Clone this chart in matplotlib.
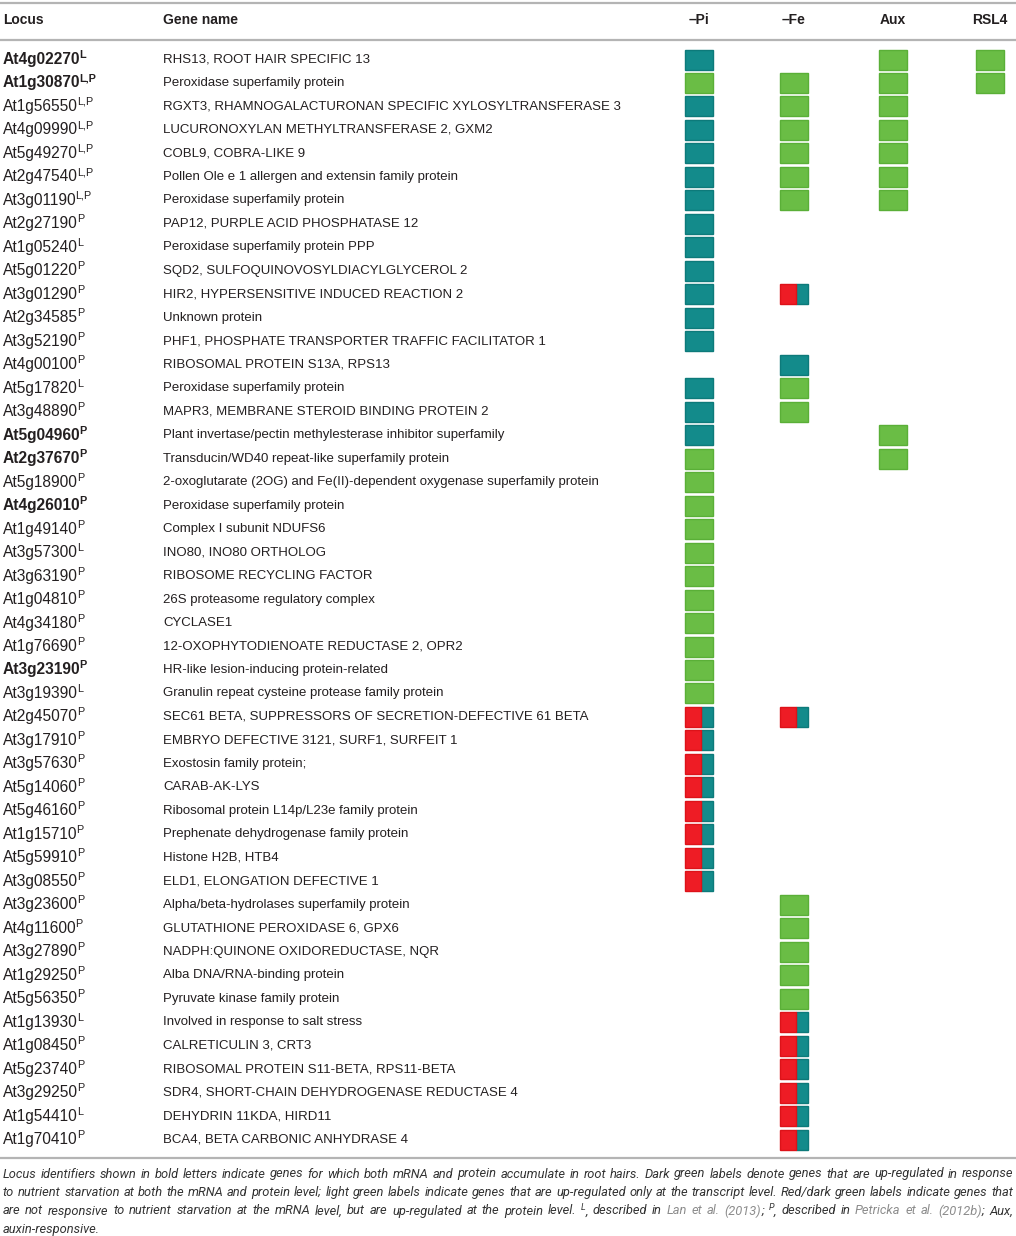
import matplotlib
matplotlib.use('Agg')
import matplotlib.pyplot as plt
from matplotlib import font_manager
from matplotlib.patches import Rectangle

# table contents
loci = ['At4g02270', 'At1g30870', 'At1g56550', 'At4g09990', 'At5g49270', 'At2g47540',
        'At3g01190', 'At2g27190', 'At1g05240', 'At5g01220', 'At3g01290', 'At2g34585',
        'At3g52190', 'At4g00100', 'At5g17820', 'At3g48890', 'At5g04960', 'At2g37670',
        'At5g18900', 'At4g26010', 'At1g49140', 'At3g57300', 'At3g63190', 'At1g04810',
        'At4g34180', 'At1g76690', 'At3g23190', 'At3g19390', 'At2g45070', 'At3g17910',
        'At3g57630', 'At5g14060', 'At5g46160', 'At1g15710', 'At5g59910', 'At3g08550',
        'At3g23600', 'At4g11600', 'At3g27890', 'At1g29250', 'At5g56350', 'At1g13930',
        'At1g08450', 'At5g23740', 'At3g29250', 'At1g54410', 'At1g70410']

refs = ['L', 'L,P', 'L,P', 'L,P', 'L,P', 'L,P', 'L,P', 'P', 'L', 'P', 'P', 'P',
        'P', 'P', 'L', 'P', 'P', 'P', 'P', 'P', 'P', 'L', 'P', 'P',
        'P', 'P', 'P', 'L', 'P', 'P', 'P', 'P', 'P', 'P', 'P', 'P',
        'P', 'P', 'P', 'P', 'P', 'L', 'P', 'P', 'P', 'L', 'P']

bold_loci = ['At4g02270', 'At1g30870', 'At5g04960', 'At2g37670', 'At4g26010', 'At3g23190']

genes = ['RHS13, ROOT HAIR SPECIFIC 13',
         'Peroxidase superfamily protein',
         'RGXT3, RHAMNOGALACTURONAN SPECIFIC XYLOSYLTRANSFERASE 3',
         'LUCURONOXYLAN METHYLTRANSFERASE 2, GXM2',
         'COBL9, COBRA-LIKE 9',
         'Pollen Ole e 1 allergen and extensin family protein',
         'Peroxidase superfamily protein',
         'PAP12, PURPLE ACID PHOSPHATASE 12',
         'Peroxidase superfamily protein PPP',
         'SQD2, SULFOQUINOVOSYLDIACYLGLYCEROL 2',
         'HIR2, HYPERSENSITIVE INDUCED REACTION 2',
         'Unknown protein',
         'PHF1, PHOSPHATE TRANSPORTER TRAFFIC FACILITATOR 1',
         'RIBOSOMAL PROTEIN S13A, RPS13',
         'Peroxidase superfamily protein',
         'MAPR3, MEMBRANE STEROID BINDING PROTEIN 2',
         'Plant invertase/pectin methylesterase inhibitor superfamily',
         'Transducin/WD40 repeat-like superfamily protein',
         '2-oxoglutarate (2OG) and Fe(II)-dependent oxygenase superfamily protein',
         'Peroxidase superfamily protein',
         'Complex I subunit NDUFS6',
         'INO80, INO80 ORTHOLOG',
         'RIBOSOME RECYCLING FACTOR',
         '26S proteasome regulatory complex',
         'CYCLASE1',
         '12-OXOPHYTODIENOATE REDUCTASE 2, OPR2',
         'HR-like lesion-inducing protein-related',
         'Granulin repeat cysteine protease family protein',
         'SEC61 BETA, SUPPRESSORS OF SECRETION-DEFECTIVE 61 BETA',
         'EMBRYO DEFECTIVE 3121, SURF1, SURFEIT 1',
         'Exostosin family protein;',
         'CARAB-AK-LYS',
         'Ribosomal protein L14p/L23e family protein',
         'Prephenate dehydrogenase family protein',
         'Histone H2B, HTB4',
         'ELD1, ELONGATION DEFECTIVE 1',
         'Alpha/beta-hydrolases superfamily protein',
         'GLUTATHIONE PEROXIDASE 6, GPX6',
         'NADPH:QUINONE OXIDOREDUCTASE, NQR',
         'Alba DNA/RNA-binding protein',
         'Pyruvate kinase family protein',
         'Involved in response to salt stress',
         'CALRETICULIN 3, CRT3',
         'RIBOSOMAL PROTEIN S11-BETA, RPS11-BETA',
         'SDR4, SHORT-CHAIN DEHYDROGENASE REDUCTASE 4',
         'DEHYDRIN 11KDA, HIRD11',
         'BCA4, BETA CARBONIC ANHYDRASE 4']

# D = dark green (mRNA + protein), G = light green (mRNA only),
# R = red/dark green (protein only), '' = not listed
pi_status = ['D', 'G', 'D', 'D', 'D', 'D', 'D', 'D', 'D', 'D', 'D', 'D', 'D', '', 'D', 'D',
             'D', 'G', 'G', 'G', 'G', 'G', 'G', 'G', 'G', 'G', 'G', 'G',
             'R', 'R', 'R', 'R', 'R', 'R', 'R', 'R',
             '', '', '', '', '', '', '', '', '', '', '']
fe_status = ['', 'G', 'G', 'G', 'G', 'G', 'G', '', '', '', 'R', '', '', 'D', 'G', 'G',
             '', '', '', '', '', '', '', '', '', '', '', '',
             'R', '', '', '', '', '', '', '',
             'G', 'G', 'G', 'G', 'G', 'R', 'R', 'R', 'R', 'R', 'R']
aux_status = ['G', 'G', 'G', 'G', 'G', 'G', 'G', '', '', '', '', '', '', '', '', '',
              'G', 'G'] + [''] * 29
rsl4_status = ['G', 'G'] + [''] * 45

col_labels = ['\u2013Pi', '\u2013Fe', 'Aux', 'RSL4']

caption_lines = [
    [[(w, 'n')] for w in ('Locus identifiers shown in bold letters indicate genes for which both '
                          'mRNA and protein accumulate in root hairs. Dark green labels denote '
                          'genes that are up-regulated in response').split()],
    [[(w, 'n')] for w in ('to nutrient starvation at both the mRNA and protein level; light green '
                          'labels indicate genes that are up-regulated only at the transcript level. '
                          'Red/dark green labels indicate genes that').split()],
    [[(w, 'n')] for w in ('are not responsive to nutrient starvation at the mRNA level, but are '
                          'up-regulated at the protein level.').split()]
    + [[('L', 's'), (',', 'n')], [('described', 'n')], [('in', 'n')],
       [('Lan', 'g')], [('et', 'g')], [('al.', 'g')], [('(2013)', 'g'), (';', 'n')],
       [('P', 's'), (',', 'n')], [('described', 'n')], [('in', 'n')],
       [('Petricka', 'g')], [('et', 'g')], [('al.', 'g')], [('(2012b)', 'g'), (';', 'n')],
       [('Aux,', 'n')]],
    [[('auxin-responsive.', 'n')]],
]

# colours and layout
TEAL, TEAL_EDGE = '#138b8b', '#0d7a7a'
GREEN, GREEN_EDGE = '#6abd45', '#5aaf37'
RED, RED_EDGE = '#ee1c25', '#dd1219'
TEXT = '#231f20'
RULE = '#b4b4b4'
FONT = 'Liberation Sans'
installed = {f.name for f in font_manager.fontManager.ttflist}
CAP_FONT = 'Roboto' if 'Roboto' in installed else FONT

W, H = 1016, 1236
fig = plt.figure(figsize=(W / 100, H / 100), dpi=100)
ax = fig.add_axes([0, 0, 1, 1])
ax.set_xlim(0, W)
ax.set_ylim(H, 0)
ax.axis('off')
renderer = fig.canvas.get_renderer()

row_y0, row_dy = 59.5, 23.48
col_x = [699, 794, 893, 990]
box_w, box_h = 28, 20
red_frac = 0.57


def text_width(s, **kw):
    t = ax.text(0, 0, s, **kw)
    bb = t.get_window_extent(renderer)
    t.remove()
    return bb.width


def draw_box(xc, yc, code):
    x0, y0 = xc - box_w / 2, yc - box_h / 2
    if code == 'D':
        ax.add_patch(Rectangle((x0, y0), box_w, box_h, fc=TEAL, ec=TEAL_EDGE, lw=1))
    elif code == 'G':
        ax.add_patch(Rectangle((x0, y0), box_w, box_h, fc=GREEN, ec=GREEN_EDGE, lw=1))
    elif code == 'R':
        rw = box_w * red_frac
        ax.add_patch(Rectangle((x0 + rw, y0), box_w - rw, box_h, fc=TEAL, ec=TEAL_EDGE, lw=1))
        ax.add_patch(Rectangle((x0, y0), rw, box_h, fc=RED, ec=RED_EDGE, lw=1))


# rules
for y in (3, 40, 1158):
    ax.plot([0, W], [y, y], color=RULE, lw=1.6, solid_capstyle='butt')

# header
hdr = dict(fontsize=10, fontweight='bold', color=TEXT, family=FONT, va='center')
ax.text(3, 20, 'Locus', ha='left', **hdr)
ax.text(163, 20, 'Gene name', ha='left', **hdr)
for x, lab in zip(col_x, col_labels):
    ax.text(x, 20, lab, ha='center', **hdr)

# rows
for i, (locus, ref, gene) in enumerate(zip(loci, refs, genes)):
    y = row_y0 + i * row_dy
    weight = 'bold' if locus in bold_loci else 'normal'
    t = ax.text(3, y, locus, fontsize=11.2, fontweight=weight, color=TEXT, family=FONT,
                ha='left', va='center')
    x_end = t.get_window_extent(renderer).x1
    ax.text(x_end - 1, y - 4.5, ref, fontsize=7.8, fontweight=weight, color=TEXT,
            family=FONT, ha='left', va='center')
    ax.text(163, y, gene, fontsize=9.5, color=TEXT, family=FONT, ha='left', va='center')
    for x, status in zip(col_x, (pi_status, fe_status, aux_status, rsl4_status)):
        draw_box(x, y, status[i])

# caption, justified like the journal layout
left, right = 3, 1013
common = dict(family=CAP_FONT, style='italic')
first_line = ' '.join(s for w in caption_lines[0] for s, k in w)
cap_fs = min(9.3, 10 * (right - left) / text_width(first_line, fontsize=10, **common) * 0.985)
cap_style = {'n': dict(fontsize=cap_fs, color='#333333'),
             's': dict(fontsize=cap_fs * 0.7, color='#333333'),
             'g': dict(fontsize=cap_fs, color='#8c8c8c')}
cap_y = [1174, 1192.5, 1211, 1229]
space = (text_width('a a', fontsize=cap_fs, **common)
         - text_width('aa', fontsize=cap_fs, **common))

for li, (words, y) in enumerate(zip(caption_lines, cap_y)):
    widths = [sum(text_width(s, **cap_style[k], **common) for s, k in w) for w in words]
    if li < len(caption_lines) - 1 and len(words) > 1:
        gap = (right - left - sum(widths)) / (len(words) - 1)
    else:
        gap = space
    x = left
    for w, wd in zip(words, widths):
        xs = x
        for s, k in w:
            dy = -4 if k == 's' else 0
            ax.text(xs, y + dy, s, ha='left', va='center', **cap_style[k], **common)
            xs += text_width(s, **cap_style[k], **common)
        x += wd + gap

fig.savefig('out.png', dpi=100)
